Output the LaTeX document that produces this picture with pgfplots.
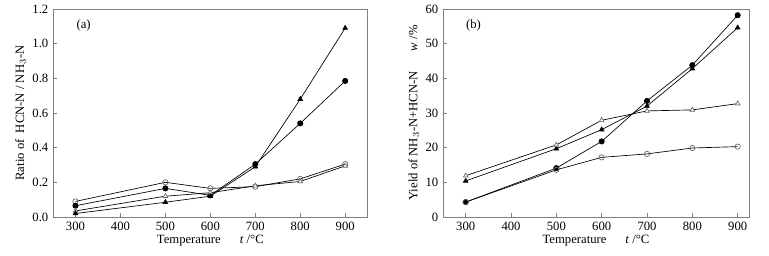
\documentclass[border=0pt]{standalone}
\usepackage{pgfplots}
\pgfplotsset{compat=1.18}
\usepackage{fontspec}
\setmainfont{Liberation Serif}
\newcommand\ff{\fontsize{9.5}{11}\selectfont}
\begin{document}
\begin{tikzpicture}
\pgfplotsset{
  every axis/.style={
    scale only axis,
    axis line style={gray},
    tick style={gray, thin},
    tick align=inside,
    xtick pos=bottom, ytick pos=left,
    major tick length=3pt,
    xtick={300,400,...,900},
    tick label style={font=\ff},
    label style={font=\ff},
    /pgf/number format/assume math mode=true,
    xlabel={Temperature\hspace{1.5em}\textit{t} /°C},
    xlabel style={yshift=3pt},
    ylabel style={yshift=-2pt},
    every axis plot/.append style={black, line width=0.5pt, mark size=2pt},
  },
  oc/.style={mark=o, mark options={fill=white, draw=gray!80!black}},
  fc/.style={mark=*, mark options={fill=black}},
  ot/.style={mark=triangle*, mark options={fill=white, draw=gray!80!black}},
  ft/.style={mark=triangle*, mark options={fill=black}},
}
\path[use as bounding box] (0,0) rectangle (576.75pt,192pt);
\begin{axis}[
  at={(39.75pt,29.25pt)}, anchor=south west,
  width=236pt, height=156pt,
  xmin=250, xmax=950, ymin=0, ymax=1.2,
  ytick={0,0.2,...,1.2},
  yticklabel style={/pgf/number format/.cd, fixed, fixed zerofill, precision=1},
  ylabel={Ratio of\ \ HCN-N / NH$_3$-N},
]
\addplot[oc] coordinates {(300,0.09) (500,0.20) (600,0.165) (700,0.175) (800,0.22) (900,0.305)};
\addplot[fc] coordinates {(300,0.065) (500,0.165) (600,0.125) (700,0.305) (800,0.54) (900,0.785)};
\addplot[ot] coordinates {(300,0.035) (500,0.12) (600,0.14) (700,0.18) (800,0.205) (900,0.295)};
\addplot[ft] coordinates {(300,0.02) (500,0.085) (600,0.12) (700,0.29) (800,0.68) (900,1.09)};
\node[anchor=west, font=\ff] at (rel axis cs:0.06,0.92) {(a)};
\end{axis}
\begin{axis}[
  at={(332.25pt,29.25pt)}, anchor=south west,
  width=229.5pt, height=156pt,
  xmin=250, xmax=925, ymin=0, ymax=60,
  ytick={0,10,...,60},
  ylabel={Yield of NH$_3$-N+HCN-N\hspace{1.6em}\textit{w} /\%},
]
\addplot[fc] coordinates {(300,4.3) (500,14.1) (600,21.8) (700,33.5) (800,43.8) (900,58.2)};
\addplot[ft] coordinates {(300,10.4) (500,19.7) (600,25.2) (700,32.0) (800,42.8) (900,54.6)};
\addplot[ot] coordinates {(300,11.9) (500,20.8) (600,27.9) (700,30.6) (800,30.9) (900,32.7)};
\addplot[oc] coordinates {(300,4.3) (500,13.6) (600,17.2) (700,18.2) (800,19.9) (900,20.3)};
\node[anchor=west, font=\ff] at (rel axis cs:0.06,0.92) {(b)};
\end{axis}
\end{tikzpicture}
\end{document}
